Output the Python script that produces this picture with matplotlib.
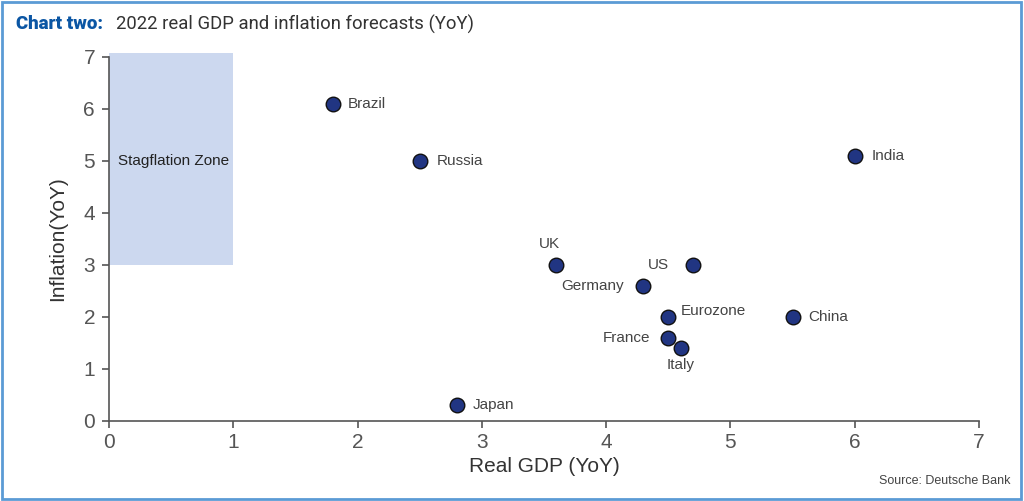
import matplotlib
matplotlib.use("Agg")
import matplotlib.pyplot as plt
from matplotlib.patches import Rectangle

# ========== 数据 ==========
countries = ["Brazil", "Russia", "India", "UK", "US", "Germany",
             "Eurozone", "China", "France", "Italy", "Japan"]
gdp = [1.8, 2.5, 6.0, 3.6, 4.7, 4.3, 4.5, 5.5, 4.5, 4.6, 2.8]
inflation = [6.1, 5.0, 5.1, 3.0, 3.0, 2.6, 2.0, 2.0, 1.6, 1.4, 0.3]

# 标签偏移 (points) 和对齐方式
label_pos = {
    "Brazil": (11, 0, "left"),
    "Russia": (12, 0, "left"),
    "India": (12, 0, "left"),
    "UK": (-5, 15, "center"),
    "US": (-17, 0, "right"),
    "Germany": (-14, 0, "right"),
    "Eurozone": (9, 4, "left"),
    "China": (11, 0, "left"),
    "France": (-13, 0, "right"),
    "Italy": (0, -12, "center"),
    "Japan": (11, 0, "left"),
}

plt.rcParams["font.family"] = ["Liberation Sans Narrow", "Liberation Sans", "DejaVu Sans"]

fig = plt.figure(figsize=(10.24, 5.01), dpi=100)
ax = fig.add_axes([0.1064, 0.1597, 0.8496, 0.7266])

# 滞胀区
ax.add_patch(Rectangle((0, 3), 1.0, 4.08, facecolor="#ccd8ef", edgecolor="none",
                       zorder=0, clip_on=False))
ax.text(0.07, 5.0, "Stagflation Zone", fontsize=11, color="#222222",
        va="center", ha="left", family=["Liberation Sans", "DejaVu Sans"])

ax.scatter(gdp, inflation, s=110, color="#213582", edgecolors="#111111",
           linewidths=1.0, zorder=3)
for c, x, y in zip(countries, gdp, inflation):
    dx, dy, ha = label_pos[c]
    ax.annotate(c, (x, y), xytext=(dx, dy), textcoords="offset points",
                ha=ha, va="center", fontsize=11, color="#444444",
                family=["Liberation Sans", "DejaVu Sans"])

ax.set_xlim(0, 7)
ax.set_ylim(0, 7)
ax.set_xticks(range(0, 8))
ax.set_yticks(range(0, 8))
for s in ["top", "right"]:
    ax.spines[s].set_visible(False)
for s in ["left", "bottom"]:
    ax.spines[s].set_color("#555555")
    ax.spines[s].set_linewidth(1.2)
ax.tick_params(colors="#555555", labelsize=15, length=5, width=1.2)
ax.tick_params(axis="y", pad=5)
ax.set_xlabel("Real GDP (YoY)", fontsize=15, color="#333333", labelpad=4)
ax.set_ylabel("Inflation(YoY)", fontsize=15, color="#333333", labelpad=12)

# 标题
fig.text(0.016, 0.952, "Chart two:", fontsize=13.5, fontweight="heavy",
         color="#0b56a4", family=["Roboto", "DejaVu Sans"], va="center")
fig.text(0.113, 0.952, "2022 real GDP and inflation forecasts (YoY)", fontsize=13.3,
         color="#333333", family=["Roboto", "DejaVu Sans"], va="center")
fig.text(0.987, 0.04, "Source: Deutsche Bank", fontsize=9, color="#444444",
         ha="right", va="center")

# 外框
fig.add_artist(Rectangle((0.002, 0.003), 0.995, 0.993, transform=fig.transFigure,
                         fill=False, edgecolor="#5b9bd5", linewidth=2))

fig.savefig("out.png", dpi=100)
